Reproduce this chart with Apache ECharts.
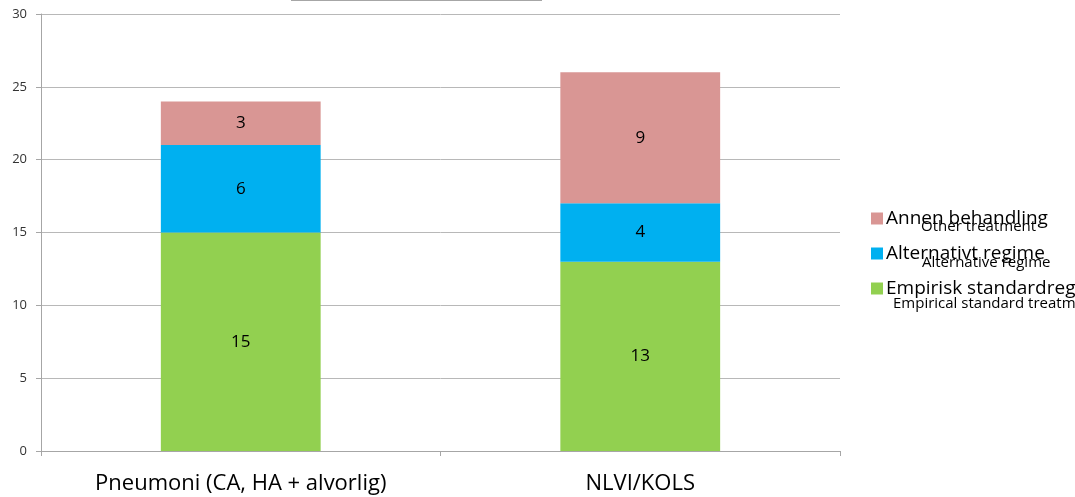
<!DOCTYPE html>
<html>
<head>
<meta charset="utf-8">
<script src="https://cdn.jsdelivr.net/npm/echarts@6/dist/echarts.min.js"></script>
<style>
  html, body { margin: 0; padding: 0; background: #fff; }
  #chart { width: 1075px; height: 497px; }
</style>
</head>
<body>
<div id="chart"></div>
<script>
  // data
  var categories = ['Pneumoni (CA, HA + alvorlig)', 'NLVI/KOLS'];
  var empirisk = [15, 13];
  var alternativt = [6, 4];
  var annen = [3, 9];
  var yTicks = [0, 5, 10, 15, 20, 25, 30];

  var seriesNames = ['Empirisk standardregime', 'Alternativt regime', 'Annen behandling'];
  var subNames = ['Empirical standard treatment', 'Alternative regime', 'Other treatment'];
  var colors = ['#92d050', '#00b0f0', '#d99694'];

  var myChart = echarts.init(document.getElementById('chart'));

  var labelOption = {
    show: true,
    position: 'inside',
    color: '#000',
    fontSize: 17,
    fontFamily: 'Open Sans'
  };

  function mkSeries(idx, data) {
    return {
      name: seriesNames[idx],
      type: 'bar',
      stack: 'total',
      barWidth: '40%',
      itemStyle: { color: colors[idx] },
      label: labelOption,
      data: data
    };
  }

  var option = {
    animation: false,
    textStyle: { fontFamily: 'Open Sans' },
    grid: { left: 41, right: 235, top: 14, bottom: 46 },
    legend: {
      orient: 'vertical',
      left: 866,
      top: 204,
      itemWidth: 12,
      itemHeight: 12,
      itemGap: 16,
      icon: 'rect',
      data: [seriesNames[2], seriesNames[1], seriesNames[0]],
      textStyle: { fontSize: 19, color: '#000', padding: [0, 0, 0, -2] }
    },
    xAxis: {
      type: 'category',
      data: categories,
      axisLine: { lineStyle: { color: '#a6a6a6', width: 1 } },
      axisTick: { show: true, alignWithLabel: false, length: 5, lineStyle: { color: '#a6a6a6' } },
      axisLabel: { fontSize: 22, color: '#000', margin: 22 }
    },
    yAxis: {
      type: 'value',
      min: yTicks[0],
      max: yTicks[yTicks.length - 1],
      interval: 5,
      axisLine: { show: true, lineStyle: { color: '#a6a6a6', width: 1 } },
      axisTick: { show: true, length: 5, lineStyle: { color: '#a6a6a6' } },
      axisLabel: { fontSize: 13, color: '#333', margin: 14 },
      splitLine: { lineStyle: { color: '#b8b8b8', width: 1 } }
    },
    series: [
      mkSeries(0, empirisk),
      mkSeries(1, alternativt),
      mkSeries(2, annen)
    ],
    graphic: [
      { type: 'line', shape: { x1: 291, y1: 0.5, x2: 542, y2: 0.5 }, style: { stroke: '#a6a6a6', lineWidth: 1 } },
      { type: 'text', left: 921, top: 219, style: { text: subNames[2], fontSize: 15, fill: '#000', fontFamily: 'Open Sans' } },
      { type: 'text', left: 922, top: 255, style: { text: subNames[1], fontSize: 15, fill: '#000', fontFamily: 'Open Sans' } },
      { type: 'text', left: 893, top: 296, style: { text: subNames[0], fontSize: 15, fill: '#000', fontFamily: 'Open Sans' } }
    ]
  };
  option && myChart.setOption(option);
</script>
</body>
</html>
